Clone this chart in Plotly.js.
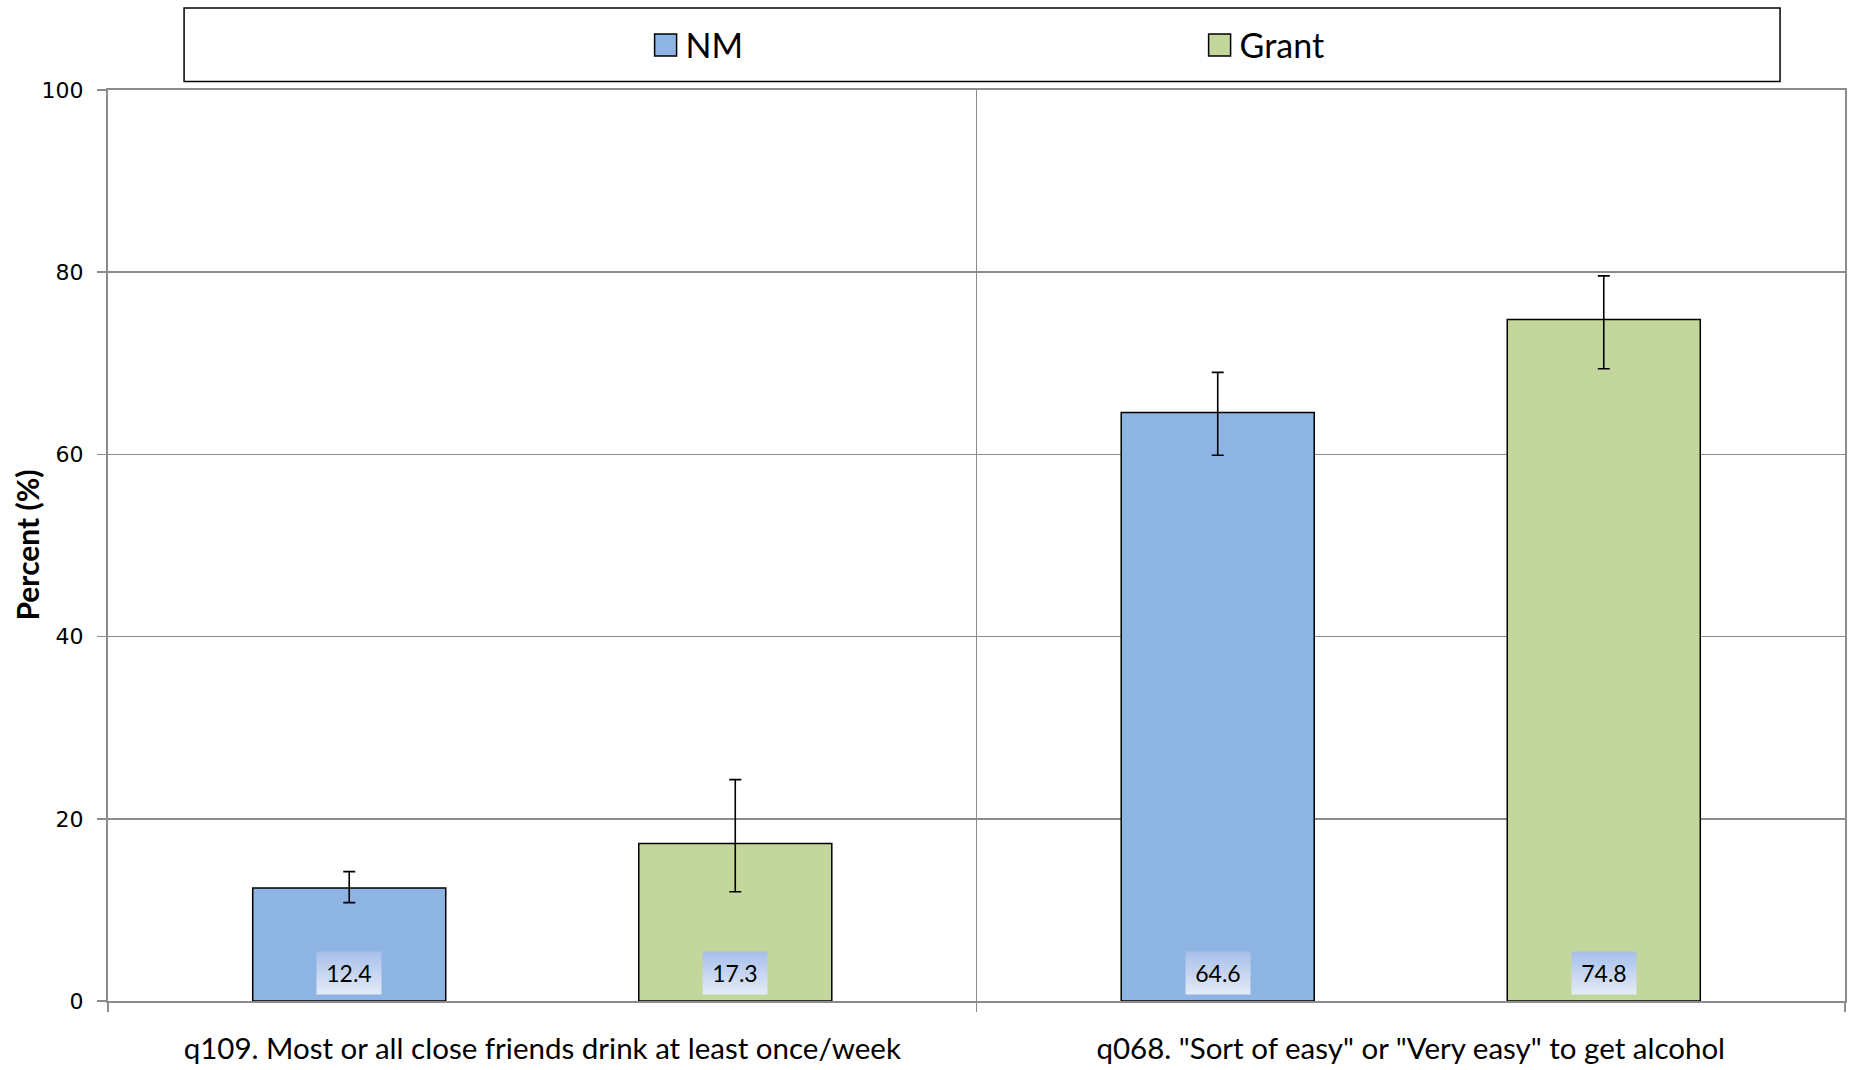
<!DOCTYPE html>
<html><head><meta charset="utf-8">
<script src="https://cdn.plot.ly/plotly-3.0.1.min.js"></script>
<style>html,body{margin:0;padding:0;background:#fff}#chart{width:1851px;height:1070px}</style>
</head><body><div id="chart"></div>
<script>
const categories = ['q109. Most or all close friends drink at least once/week', 'q068. "Sort of easy" or "Very easy" to get alcohol'];
const seriesNames = ['NM', 'Grant'];
const nmValues = [12.4, 64.6];
const grantValues = [17.3, 74.8];
const nmErrPlus = [1.8, 4.4];
const nmErrMinus = [1.6, 4.7];
const grantErrPlus = [7.0, 4.8];
const grantErrMinus = [5.3, 5.4];
const yTickVals = [0, 20, 40, 60, 80, 100];
const yTitle = 'Percent (%)';

const NM_COLOR = '#8eb4e3';
const GRANT_COLOR = '#c3d69b';
const GRID = '#8c8c8c';
const BARGAP = 0.111;
const FONT = 'Lato, "Open Sans", sans-serif';

function barTrace(name, vals, plus, minus, color) {
  return {
    type: 'bar', name: name, x: categories, y: vals,
    marker: {color: color, line: {color: '#000', width: 1.5}},
    error_y: {type: 'data', symmetric: false, array: plus, arrayminus: minus,
              color: '#000', thickness: 1.6, width: 6},
    hoverinfo: 'skip'
  };
}
const traces = [
  barTrace(seriesNames[0], nmValues, nmErrPlus, nmErrMinus, NM_COLOR),
  barTrace(seriesNames[1], grantValues, grantErrPlus, grantErrMinus, GRANT_COLOR)
];

const half = (1 - BARGAP) / 4;
const annotations = [];
[nmValues, grantValues].forEach((vals, s) => {
  vals.forEach((v, i) => {
    annotations.push({
      xref: 'x', yref: 'y', x: i + (s === 0 ? -half : half), y: 0,
      yanchor: 'bottom', yshift: 6, showarrow: false,
      text: v.toFixed(1), font: {family: FONT, size: 23, color: '#000'},
      bgcolor: '#c9d8f1', width: 56, height: 34, borderpad: 4
    });
  });
});
annotations.push({
  xref: 'paper', yref: 'paper', x: -0.0472, y: 0.5, xanchor: 'center', yanchor: 'middle',
  textangle: -90, showarrow: false, text: '<b>' + yTitle + '</b>',
  font: {family: FONT, size: 30, color: '#000'}
});

const layout = {
  width: 1851, height: 1070,
  paper_bgcolor: '#fff', plot_bgcolor: '#fff',
  margin: {l: 108, r: 6, t: 90, b: 69},
  barmode: 'group', bargap: BARGAP, bargroupgap: 0.5,
  showlegend: true,
  legend: {orientation: 'h', x: 0.3095, xanchor: 'left', y: 1.049, yanchor: 'middle',
           entrywidth: 509, font: {family: FONT, size: 34, color: '#000'},
           bgcolor: 'rgba(0,0,0,0)', borderwidth: 0, traceorder: 'normal'},
  xaxis: {type: 'category', range: [-0.5, 1.5], tickson: 'boundaries',
          showgrid: true, gridcolor: GRID, gridwidth: 1.5,
          showline: true, linecolor: GRID, linewidth: 2, mirror: true,
          ticks: 'outside', ticklen: 9, tickcolor: GRID, tickwidth: 1.5,
          ticklabelstandoff: 21, automargin: false,
          tickfont: {family: FONT, size: 29.5, color: '#000'}, fixedrange: true},
  yaxis: {range: [0, 100], tickvals: yTickVals, ticktext: yTickVals.map(String),
          showgrid: true, gridcolor: GRID, gridwidth: 1.5, zeroline: false,
          showline: true, linecolor: GRID, linewidth: 2, mirror: true,
          ticks: 'outside', ticklen: 9, tickcolor: GRID, tickwidth: 1.5,
          ticklabelstandoff: 9, automargin: false,
          tickfont: {family: '"DejaVu Sans", sans-serif', size: 22, color: '#000'},
          fixedrange: true},
  shapes: [{type: 'rect', xref: 'paper', yref: 'paper', x0: 0.0438, x1: 0.9626, y0: 1.0093, y1: 1.090,
            line: {color: '#000', width: 1.5}, fillcolor: 'rgba(0,0,0,0)', layer: 'above'}],
  annotations: annotations
};

Plotly.newPlot('chart', traces, layout, {staticPlot: true, displayModeBar: false}).then(gd => {
  const ns = 'http://www.w3.org/2000/svg';
  const svg = gd.querySelector('svg.main-svg');
  let defs = svg.querySelector('defs');
  if (!defs) { defs = document.createElementNS(ns, 'defs'); svg.insertBefore(defs, svg.firstChild); }
  const grad = document.createElementNS(ns, 'linearGradient');
  grad.setAttribute('id', 'lblgrad');
  grad.setAttribute('x1', '0'); grad.setAttribute('y1', '0');
  grad.setAttribute('x2', '0'); grad.setAttribute('y2', '1');
  [['0', '#a6bfea'], ['1', '#e4ebf7']].forEach(([o, c]) => {
    const st = document.createElementNS(ns, 'stop');
    st.setAttribute('offset', o); st.setAttribute('stop-color', c);
    grad.appendChild(st);
  });
  defs.appendChild(grad);
  gd.querySelectorAll('.annotation rect.bg').forEach(r => {
    if (r.getAttribute('style') && r.getAttribute('style').indexOf('fill: rgb(201') >= 0) r.style.fill = 'url(#lblgrad)';
  });
  gd.querySelectorAll('.legend .legendpoints path').forEach(p => {
    p.setAttribute('d', 'M11,11H-11V-11H11Z');
  });
});
</script>
</body></html>
